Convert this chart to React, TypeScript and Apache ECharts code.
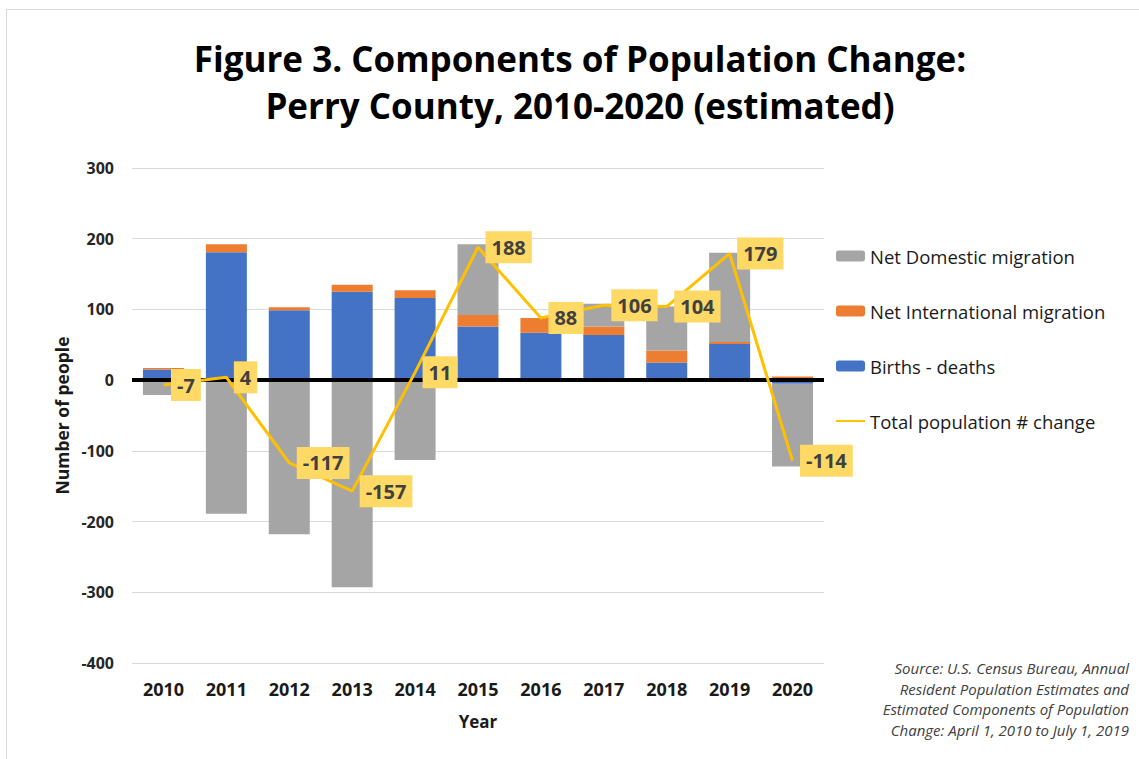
import React, { useEffect, useRef } from "react";
import * as echarts from "echarts";

const years = ["2010", "2011", "2012", "2013", "2014", "2015", "2016", "2017", "2018", "2019", "2020"];
const birthsDeaths = [15, 181, 99, 125, 116, 76, 67, 64, 25, 51, -5];
const netInternational = [2, 11, 4, 10, 11, 16, 21, 12, 17, 3, 5];
const netDomestic = [-21, -189, -218, -293, -113, 100, 0, 32, 62, 126, -117];
const totalChange = [-7, 4, -117, -157, 11, 188, 88, 106, 104, 179, -114];

const FONT = "Open Sans";

export default function App() {
  const ref = useRef<HTMLDivElement>(null);
  useEffect(() => {
    if (!ref.current) return;
    const chart = echarts.init(ref.current, null, { renderer: "svg" });
    chart.setOption({
      animation: false,
      backgroundColor: "#ffffff",
      textStyle: { fontFamily: FONT },
      grid: { left: 132, right: 315, top: 168, bottom: 96, containLabel: false },
      legend: {
        orient: "vertical",
        left: 830,
        top: 241,
        itemWidth: 29,
        itemHeight: 11,
        itemGap: 35,
        textStyle: { fontFamily: FONT, fontSize: 18.5, color: "#1a1a1a", lineHeight: 20 },
        data: ["Net Domestic migration", "Net International migration", "Births - deaths", "Total population # change"],
      },
      xAxis: {
        type: "category",
        data: years,
        axisTick: { show: false },
        axisLine: { show: false },
        axisLabel: { fontFamily: FONT, fontSize: 18, fontWeight: "bold", color: "#1a1a1a", margin: 17 },
        name: "Year",
        nameLocation: "middle",
        nameGap: 50,
        nameTextStyle: { fontFamily: FONT, fontSize: 17, fontWeight: "bold", color: "#1a1a1a" },
      },
      yAxis: {
        type: "value",
        min: -400,
        max: 300,
        interval: 100,
        axisLine: { show: false },
        axisTick: { show: false },
        splitLine: { lineStyle: { color: "#d9d9d9", width: 1 } },
        axisLabel: { fontFamily: FONT, fontSize: 16, fontWeight: "bold", color: "#262626", margin: 18 },
        name: "Number of people",
        nameLocation: "middle",
        nameGap: 56,
        nameTextStyle: { fontFamily: FONT, fontSize: 17.5, fontWeight: "bold", color: "#1a1a1a" },
      },
      series: [
        {
          name: "Births - deaths",
          type: "bar",
          stack: "total",
          barWidth: 41,
          data: birthsDeaths,
          itemStyle: { color: "#4472C4" },
          markLine: {
            silent: true,
            symbol: ["none", "none"],
            label: { show: false },
            lineStyle: { color: "#000000", width: 4, type: "solid" },
            data: [{ yAxis: 0 }],
          },
        },
        {
          name: "Net International migration",
          type: "bar",
          stack: "total",
          barWidth: 41,
          data: netInternational,
          itemStyle: { color: "#ED7D31" },
        },
        {
          name: "Net Domestic migration",
          type: "bar",
          stack: "total",
          barWidth: 41,
          data: netDomestic,
          itemStyle: { color: "#A5A5A5" },
        },
        {
          name: "Total population # change",
          type: "line",
          z: 10,
          data: totalChange,
          symbol: "circle",
          symbolSize: 1,
          showSymbol: true,
          itemStyle: { color: "#FFC000", opacity: 0 },
          lineStyle: { color: "#FFC000", width: 3 },
          label: {
            show: true,
            position: "right",
            distance: 7,
            backgroundColor: "#FFD966",
            color: "#404040",
            fontFamily: FONT,
            fontWeight: "bold",
            fontSize: 20,
            lineHeight: 22,
            padding: [5, 6],
            opacity: 1,
          },
        },
      ],
      graphic: [
        {
          type: "rect",
          silent: true,
          shape: { x: 6.5, y: 9.5, width: 1300, height: 900 },
          style: { fill: "none", stroke: "#d9d9d9", lineWidth: 1 },
        },
        {
          type: "text",
          x: 580,
          y: 81.5,
          style: {
            text: "Figure 3. Components of Population Change:\nPerry County, 2010-2020 (estimated)",
            fontFamily: FONT,
            fontSize: 35,
            fontWeight: "bold",
            fill: "#000000",
            align: "center",
            verticalAlign: "middle",
            lineHeight: 47,
          },
        },
        {
          type: "text",
          x: 1129,
          y: 658,
          style: {
            text: "Source: U.S. Census Bureau, Annual\nResident Population Estimates and\nEstimated Components of Population\nChange: April 1, 2010 to July 1, 2019",
            fontFamily: FONT,
            fontSize: 15,
            fontStyle: "italic",
            fill: "#404040",
            align: "right",
            verticalAlign: "top",
            lineHeight: 20.5,
          },
        },
      ],
    });
    return () => chart.dispose();
  }, []);
  return <div ref={ref} style={{ position: "absolute", left: 0, top: 0, width: 1139, height: 759 }} />;
}
